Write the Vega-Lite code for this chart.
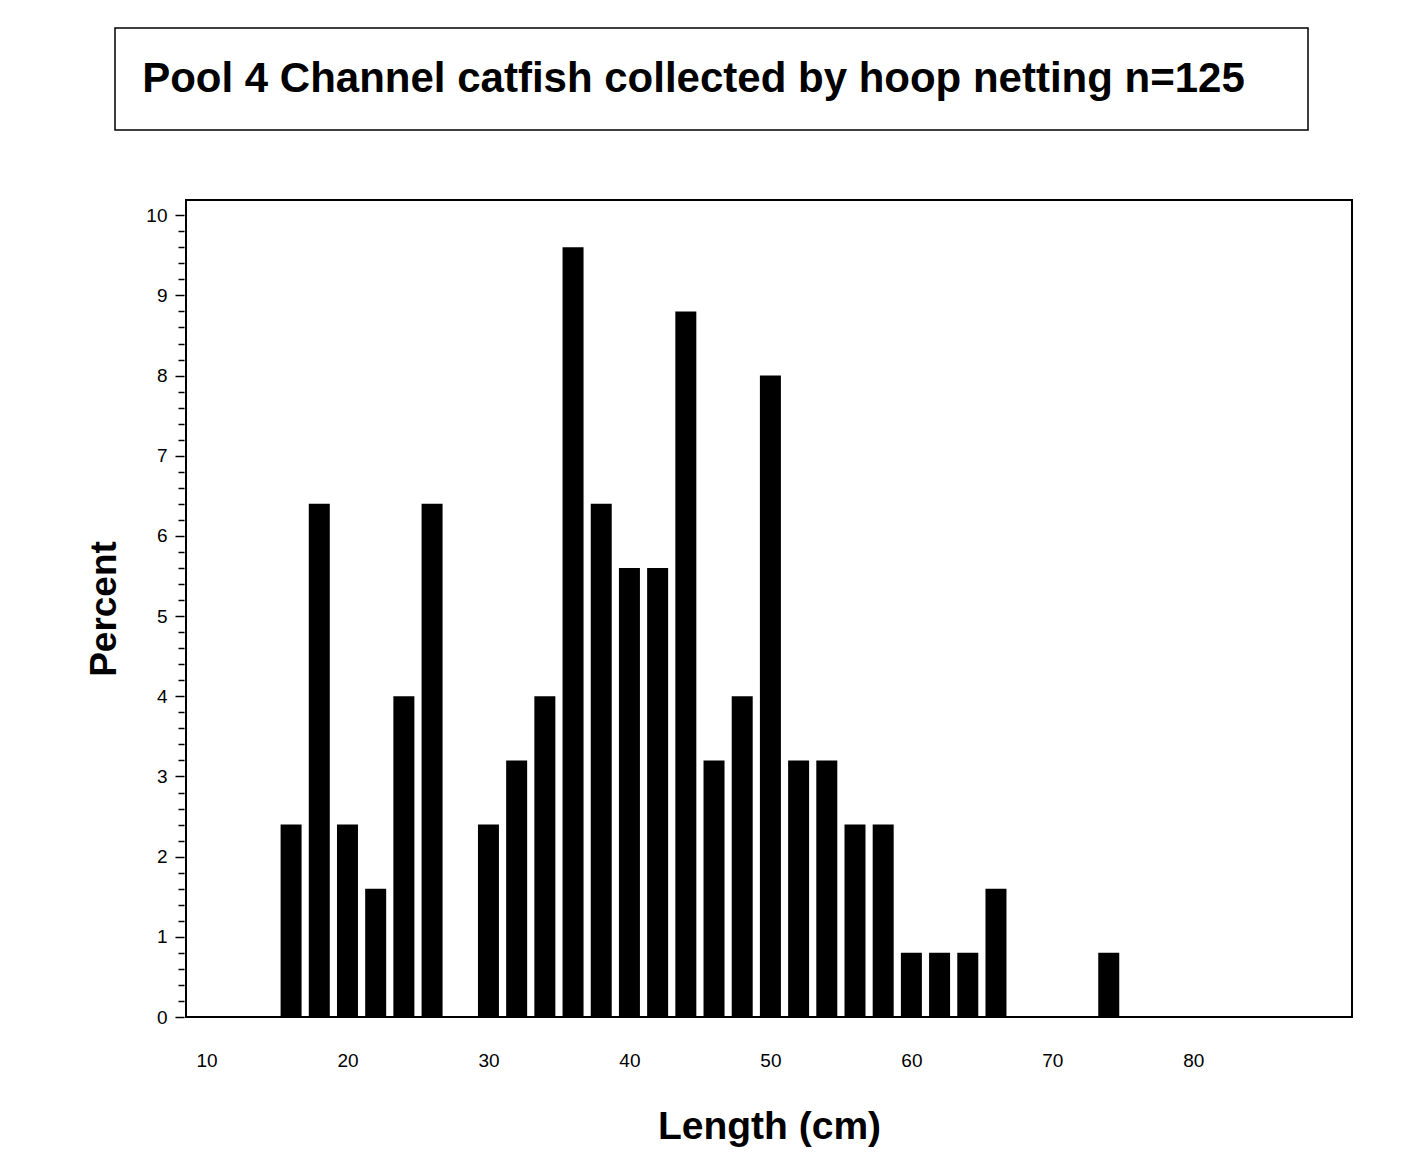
{
  "$schema": "https://vega.github.io/schema/vega-lite/v6.json",
  "background": "white",
  "padding": {"left": 85, "top": 27, "right": 5, "bottom": 20},
  "spacing": 68,
  "config": {
    "font": "Liberation Sans",
    "view": {"stroke": "black", "strokeWidth": 2}
  },
  "datasets": {
    "fish": [
      {"length": 16, "percent": 2.4},
      {"length": 18, "percent": 6.4},
      {"length": 20, "percent": 2.4},
      {"length": 22, "percent": 1.6},
      {"length": 24, "percent": 4.0},
      {"length": 26, "percent": 6.4},
      {"length": 30, "percent": 2.4},
      {"length": 32, "percent": 3.2},
      {"length": 34, "percent": 4.0},
      {"length": 36, "percent": 9.6},
      {"length": 38, "percent": 6.4},
      {"length": 40, "percent": 5.6},
      {"length": 42, "percent": 5.6},
      {"length": 44, "percent": 8.8},
      {"length": 46, "percent": 3.2},
      {"length": 48, "percent": 4.0},
      {"length": 50, "percent": 8.0},
      {"length": 52, "percent": 3.2},
      {"length": 54, "percent": 3.2},
      {"length": 56, "percent": 2.4},
      {"length": 58, "percent": 2.4},
      {"length": 60, "percent": 0.8},
      {"length": 62, "percent": 0.8},
      {"length": 64, "percent": 0.8},
      {"length": 66, "percent": 1.6},
      {"length": 74, "percent": 0.8}
    ]
  },
  "vconcat": [
    {
      "width": 1193,
      "height": 102,
      "view": {"stroke": "black", "strokeWidth": 1.5},
      "data": {"values": [{"t": "Pool 4 Channel catfish collected by hoop netting n=125"}]},
      "mark": {"type": "text", "font": "Liberation Sans", "fontSize": 42, "fontWeight": "bold", "color": "black", "dx": -18, "baseline": "middle", "align": "center"},
      "encoding": {"text": {"field": "t"}}
    },
    {
      "spacing": 0,
      "hconcat": [
        {
          "width": 69,
          "height": 817,
          "view": {"stroke": null},
          "data": {"name": "fish"},
          "mark": {"type": "point", "opacity": 0},
          "encoding": {
            "y": {
              "field": "percent",
              "type": "quantitative",
              "scale": {"domain": [0, 10.19], "nice": false},
              "axis": {
                "offset": -69,
                "values": [0, 0.2, 0.4, 0.6, 0.8, 1, 1.2, 1.4, 1.6, 1.8, 2, 2.2, 2.4, 2.6, 2.8, 3, 3.2, 3.4, 3.6, 3.8, 4, 4.2, 4.4, 4.6, 4.8, 5, 5.2, 5.4, 5.6, 5.8, 6, 6.2, 6.4, 6.6, 6.8, 7, 7.2, 7.4, 7.6, 7.8, 8, 8.2, 8.4, 8.6, 8.8, 9, 9.2, 9.4, 9.6, 9.8, 10],
                "labelExpr": "abs(datum.value - round(datum.value)) < 0.01 ? format(datum.value, 'd') : ''",
                "tickSize": {"condition": {"test": "abs(datum.value - round(datum.value)) < 0.01", "value": 9}, "value": 6},
                "tickColor": "black",
                "tickWidth": 1.5,
                "domain": false,
                "grid": false,
                "labelPadding": 8,
                "labelFontSize": 19,
                "labelColor": "black",
                "labelFont": "Liberation Sans",
                "labelOverlap": false,
                "title": "Percent",
                "titleFontSize": 37,
                "titleFontWeight": "bold",
                "titleColor": "black",
                "titlePadding": 22
              }
            }
          }
        },
        {
          "width": 1166,
          "height": 817,
          "data": {"name": "fish"},
          "mark": {"type": "bar", "color": "black", "width": 21, "clip": true},
          "encoding": {
            "x": {
              "field": "length",
              "type": "quantitative",
              "scale": {"domain": [8.9, 90.9], "nice": false, "zero": false},
              "axis": {
                "values": [10, 20, 30, 40, 50, 60, 70, 80],
                "ticks": false,
                "domain": false,
                "grid": false,
                "labelPadding": 34,
                "labelFontSize": 19,
                "labelColor": "black",
                "labelFont": "Liberation Sans",
                "title": "Length (cm)",
                "titleFontSize": 39,
                "titleFontWeight": "bold",
                "titleColor": "black",
                "titlePadding": 37
              }
            },
            "y": {
              "field": "percent",
              "type": "quantitative",
              "scale": {"domain": [0, 10.19], "nice": false},
              "axis": null
            }
          }
        }
      ]
    }
  ]
}
